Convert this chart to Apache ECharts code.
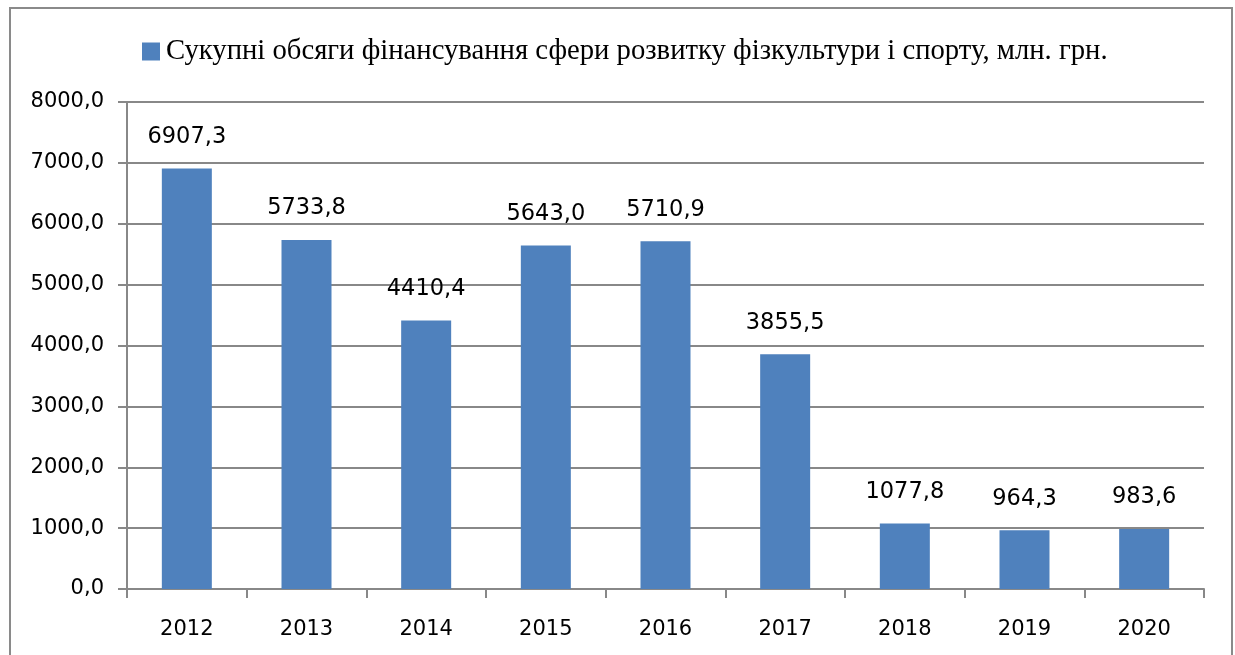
<!DOCTYPE html>
<html>
<head>
<meta charset="utf-8">
<script src="https://cdn.jsdelivr.net/npm/echarts@6/dist/echarts.min.js"></script>
<style>
  html, body { margin: 0; padding: 0; background: #fff; }
  #chart { width: 1235px; height: 655px; }
</style>
</head>
<body>
<div id="chart"></div>
<script>
// Total funding of physical culture and sport, million UAH, by year
const years = ['2012', '2013', '2014', '2015', '2016', '2017', '2018', '2019', '2020'];
const funding = [6907.3, 5733.8, 4410.4, 5643.0, 5710.9, 3855.5, 1077.8, 964.3, 983.6];
const seriesName = 'Сукупні обсяги фінансування сфери розвитку фізкультури і спорту, млн. грн.';

// Numbers in Ukrainian style: one decimal, comma separator
const fmt = v => v.toFixed(1).replace('.', ',');

const chart = echarts.init(document.getElementById('chart'), null, { renderer: 'canvas' });

chart.setOption({
  animation: false,
  backgroundColor: '#ffffff',
  graphic: [{
    type: 'rect',
    shape: { x: 10, y: 8, width: 1222, height: 670 },
    style: { fill: 'none', stroke: '#8a8a8a', lineWidth: 2 },
    silent: true
  }],
  legend: {
    left: 137,
    top: 32,
    itemWidth: 18,
    itemHeight: 18,
    icon: 'rect',
    textStyle: {
      fontFamily: 'Liberation Serif',
      fontSize: 28.7,
      color: '#000',
      padding: [0, 0, 0, 1]
    },
    data: [seriesName]
  },
  grid: { left: 127, right: 31, top: 102, bottom: 66, containLabel: false },
  xAxis: {
    type: 'category',
    data: years,
    axisLine: { lineStyle: { color: '#888', width: 2 } },
    axisTick: { show: true, alignWithLabel: false, length: 9, lineStyle: { color: '#888', width: 2 } },
    axisLabel: { fontFamily: 'DejaVu Sans', fontSize: 21, color: '#000', margin: 30 }
  },
  yAxis: {
    type: 'value',
    min: 0,
    max: 8000,
    interval: 1000,
    axisLine: { show: true, lineStyle: { color: '#888', width: 2 } },
    axisTick: { show: true, length: 9, lineStyle: { color: '#888', width: 2 } },
    splitLine: { show: true, lineStyle: { color: '#888', width: 2 } },
    axisLabel: {
      fontFamily: 'DejaVu Sans', fontSize: 21, color: '#000', margin: 23,
      formatter: v => fmt(v)
    }
  },
  series: [{
    name: seriesName,
    type: 'bar',
    data: funding,
    barWidth: 50,
    itemStyle: { color: '#4F81BD' },
    label: {
      show: true,
      position: 'top',
      distance: 20,
      fontFamily: 'DejaVu Sans',
      fontSize: 22.5,
      color: '#000',
      formatter: p => fmt(p.value)
    }
  }]
});
</script>
</body>
</html>
